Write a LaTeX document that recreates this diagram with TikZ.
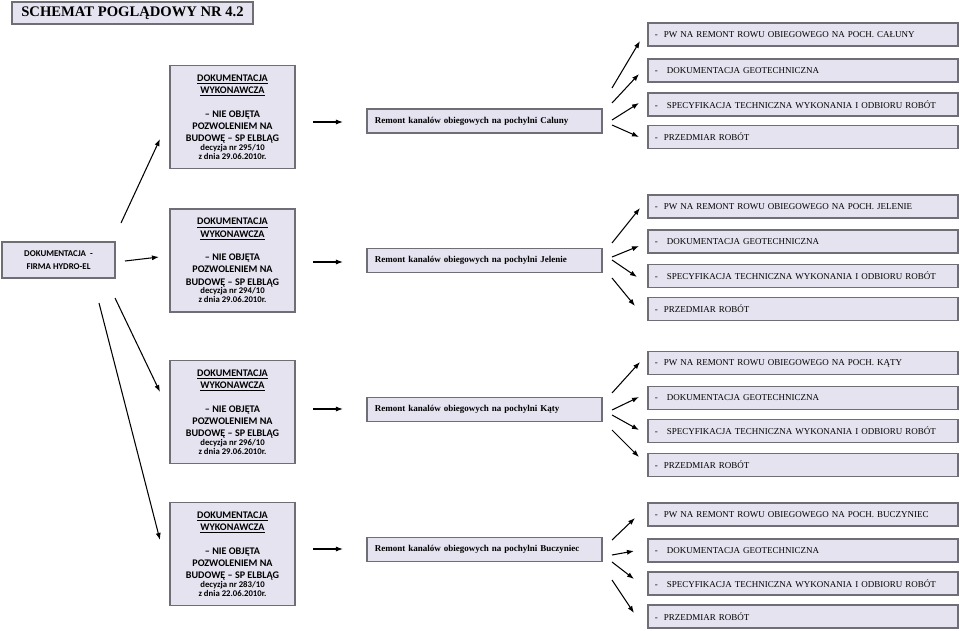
\documentclass[tikz,border=0pt]{standalone}
\usepackage{fontspec}
\setmainfont{Liberation Serif}
\newfontfamily\calibri{Carlito}
\usetikzlibrary{arrows.meta}
\definecolor{lila}{RGB}{229,227,239}
\definecolor{ramka}{RGB}{110,110,118}
\tikzset{
  box/.style={draw=ramka,fill=lila,line width=0.9pt,inner sep=0pt},
  wyk/.style={box,minimum width=3.125cm,minimum height=2.575cm,align=center,
    font=\calibri\bfseries\fontsize{7.2}{8.7}\selectfont},
  rem/.style={box,minimum width=5.875cm,minimum height=0.6cm,inner xsep=0.2cm,
    text width=5.475cm,align=left,font=\bfseries\fontsize{6.4}{7.7}\selectfont},
  poz/.style={box,minimum width=7.75cm,minimum height=0.575cm,inner xsep=0.175cm,
    text width=7.4cm,align=left,font=\fontsize{6.4}{7.7}\selectfont},
  arr/.style={line width=0.75pt,-{Latex[length=5pt,width=3.6pt]}}
}
\newcommand{\maly}{\fontsize{6.2}{6}\selectfont}
\begin{document}
\begin{tikzpicture}[x=0.025cm,y=-0.025cm]
\useasboundingbox (0,0) rectangle (960,631);

\node [box,line width=1.2pt,minimum width=6.025cm,minimum height=0.55cm,
  font=\bfseries\fontsize{10.4}{12}\selectfont] (tytul) at (132.5,13) {SCHEMAT POGLĄDOWY NR 4.2};

\node [box,minimum width=2.825cm,minimum height=0.9cm,align=center,
  font=\calibri\bfseries\fontsize{6.3}{9.2}\selectfont] (hydro) at (58.5,260) {DOKUMENTACJA \ -\\FIRMA HYDRO-EL};

\node [wyk] (wyk1) at (232.5,117) {\underline{DOKUMENTACJA}\\\underline{WYKONAWCZA}\\[8pt]
  – NIE OBJĘTA\\POZWOLENIEM NA\\BUDOWĘ – SP ELBLĄG\\[-2.4pt]
  \maly decyzja nr 295/10\\[-2.4pt]\maly z dnia 29.06.2010r.};
\node [wyk] (wyk2) at (232.5,260.5) {\underline{DOKUMENTACJA}\\\underline{WYKONAWCZA}\\[8pt]
  – NIE OBJĘTA\\POZWOLENIEM NA\\BUDOWĘ – SP ELBLĄG\\[-2.4pt]
  \maly decyzja nr 294/10\\[-2.4pt]\maly z dnia 29.06.2010r.};
\node [wyk] (wyk3) at (232.5,412) {\underline{DOKUMENTACJA}\\\underline{WYKONAWCZA}\\[8pt]
  – NIE OBJĘTA\\POZWOLENIEM NA\\BUDOWĘ – SP ELBLĄG\\[-2.4pt]
  \maly decyzja nr 296/10\\[-2.4pt]\maly z dnia 29.06.2010r.};
\node [wyk] (wyk4) at (232.5,554) {\underline{DOKUMENTACJA}\\\underline{WYKONAWCZA}\\[8pt]
  – NIE OBJĘTA\\POZWOLENIEM NA\\BUDOWĘ – SP ELBLĄG\\[-2.4pt]
  \maly decyzja nr 283/10\\[-2.4pt]\maly z dnia 22.06.2010r.};

\node [rem] (rem1) at (484.5,121) {Remont kanalów obiegowych na pochylni Caluny};
\node [rem] (rem2) at (484.5,260.5) {Remont kanalów obiegowych na pochylni Jelenie};
\node [rem] (rem3) at (484.5,409.5) {Remont kanalów obiegowych na pochylni Kąty};
\node [rem] (rem4) at (484.5,549.5) {Remont kanalów obiegowych na pochylni Buczyniec};

\node [poz] (pw1) at (803,34.5) {-\ \ PW NA REMONT ROWU OBIEGOWEGO NA POCH. CAŁUNY};
\node [poz] (geo1) at (803,70.5) {-\ \ \ DOKUMENTACJA GEOTECHNICZNA};
\node [poz] (spec1) at (803,104.5) {-\ \ \ SPECYFIKACJA TECHNICZNA WYKONANIA I ODBIORU ROBÓT};
\node [poz] (przed1) at (803,137) {-\ \ PRZEDMIAR ROBÓT};

\node [poz] (pw2) at (803,206.5) {-\ \ PW NA REMONT ROWU OBIEGOWEGO NA POCH. JELENIE};
\node [poz] (geo2) at (803,241.5) {-\ \ \ DOKUMENTACJA GEOTECHNICZNA};
\node [poz] (spec2) at (803,276) {-\ \ \ SPECYFIKACJA TECHNICZNA WYKONANIA I ODBIORU ROBÓT};
\node [poz] (przed2) at (803,309) {-\ \ PRZEDMIAR ROBÓT};

\node [poz] (pw3) at (803,363) {-\ \ PW NA REMONT ROWU OBIEGOWEGO NA POCH. KĄTY};
\node [poz] (geo3) at (803,398) {-\ \ \ DOKUMENTACJA GEOTECHNICZNA};
\node [poz] (spec3) at (803,431) {-\ \ \ SPECYFIKACJA TECHNICZNA WYKONANIA I ODBIORU ROBÓT};
\node [poz] (przed3) at (803,465) {-\ \ PRZEDMIAR ROBÓT};

\node [poz] (pw4) at (803,514.5) {-\ \ PW NA REMONT ROWU OBIEGOWEGO NA POCH. BUCZYNIEC};
\node [poz] (geo4) at (803,550.5) {-\ \ \ DOKUMENTACJA GEOTECHNICZNA};
\node [poz] (spec4) at (803,583.5) {-\ \ \ SPECYFIKACJA TECHNICZNA WYKONANIA I ODBIORU ROBÓT};
\node [poz] (przed4) at (803,616.5) {-\ \ PRZEDMIAR ROBÓT};

% strzalki od firmy
\coordinate (h1) at (121,223); \coordinate (w1) at (160,139);
\coordinate (h2) at (125,261); \coordinate (w2) at (159,257);
\coordinate (h3) at (115,298); \coordinate (w3) at (160,392);
\coordinate (h4) at (99,303);  \coordinate (w4) at (160,540);
\draw [arr] (h1)--(w1);
\draw [arr] (h2)--(w2);
\draw [arr] (h3)--(w3);
\draw [arr] (h4)--(w4);

% strzalki do remontow
\coordinate (m1) at (313,122); \coordinate (r1) at (343,122);
\coordinate (m2) at (313,262); \coordinate (r2) at (343,262);
\coordinate (m3) at (313,409); \coordinate (r3) at (343,409);
\coordinate (m4) at (313,549); \coordinate (r4) at (343,549);
\draw [arr] (m1)--(r1);
\draw [arr] (m2)--(r2);
\draw [arr] (m3)--(r3);
\draw [arr] (m4)--(r4);

% wachlarze
\coordinate (a11) at (612,88);  \coordinate (b11) at (640,41);
\coordinate (a12) at (612,103); \coordinate (b12) at (639,74);
\coordinate (a13) at (612,120); \coordinate (b13) at (639,103);
\coordinate (a14) at (612,125); \coordinate (b14) at (639,137);
\coordinate (a21) at (612,243); \coordinate (b21) at (640,208);
\coordinate (a22) at (612,257); \coordinate (b22) at (639,246);
\coordinate (a23) at (612,260); \coordinate (b23) at (637,277);
\coordinate (a24) at (612,278); \coordinate (b24) at (635,306);
\coordinate (a31) at (612,393); \coordinate (b31) at (640,362);
\coordinate (a32) at (612,410); \coordinate (b32) at (639,397);
\coordinate (a33) at (612,415); \coordinate (b33) at (639,430);
\coordinate (a34) at (612,430); \coordinate (b34) at (639,457);
\coordinate (a41) at (612,540); \coordinate (b41) at (635,518);
\coordinate (a42) at (612,555); \coordinate (b42) at (634,551);
\coordinate (a43) at (612,562); \coordinate (b43) at (634,579);
\coordinate (a44) at (612,580); \coordinate (b44) at (634,613);
\draw [arr] (a11)--(b11); \draw [arr] (a12)--(b12);
\draw [arr] (a13)--(b13); \draw [arr] (a14)--(b14);
\draw [arr] (a21)--(b21); \draw [arr] (a22)--(b22);
\draw [arr] (a23)--(b23); \draw [arr] (a24)--(b24);
\draw [arr] (a31)--(b31); \draw [arr] (a32)--(b32);
\draw [arr] (a33)--(b33); \draw [arr] (a34)--(b34);
\draw [arr] (a41)--(b41); \draw [arr] (a42)--(b42);
\draw [arr] (a43)--(b43); \draw [arr] (a44)--(b44);

\end{tikzpicture}
\end{document}
